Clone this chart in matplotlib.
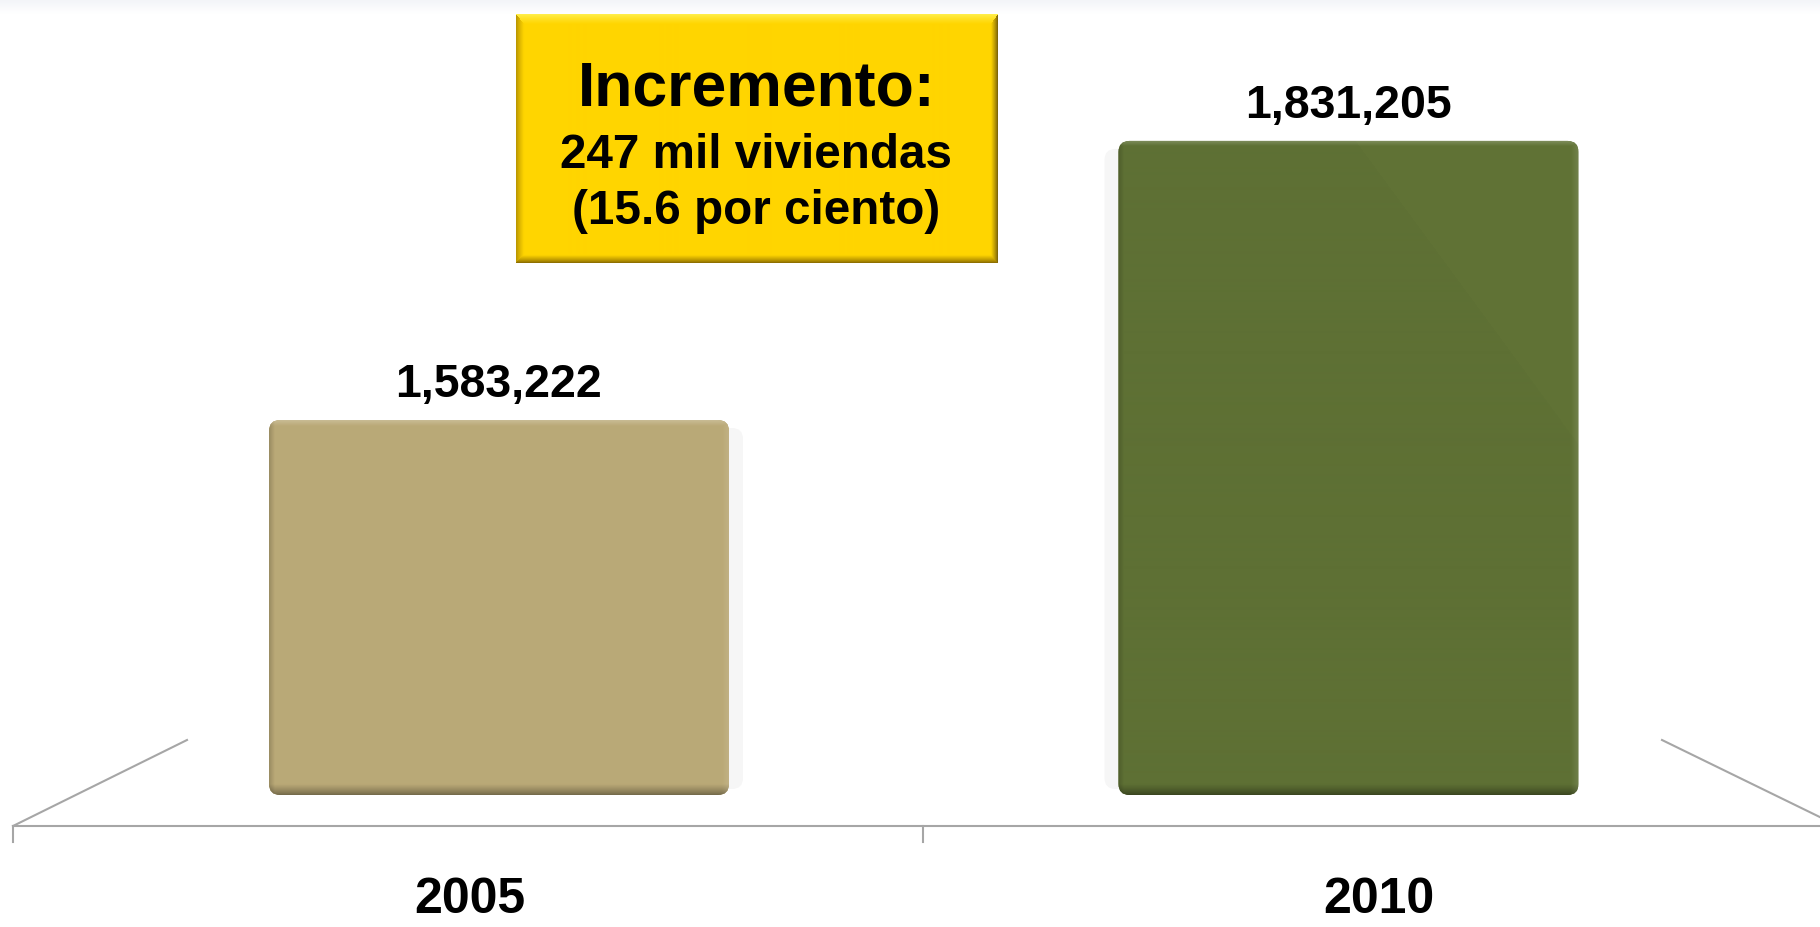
import numpy as np
import matplotlib
matplotlib.use("Agg")
import matplotlib.pyplot as plt
from matplotlib.patches import FancyBboxPatch
from matplotlib.lines import Line2D

# ---------------- data ----------------
years = ["2005", "2010"]
viviendas = [1583222, 1831205]
bar_colors = ["#BAA977", "#5E7034"]
box_lines = ["Incremento:", "247 mil viviendas", "(15.6 por ciento)"]

W_PX, H_PX = 1820, 927
DPI = 100
FONT = "Liberation Sans"

fig = plt.figure(figsize=(W_PX / DPI, H_PX / DPI), dpi=DPI)
fig.patch.set_facecolor("white")


def fx(px):
    return px / W_PX


def fy(py):
    return 1 - py / H_PX


# top light band
band = fig.add_axes([0, fy(14), 1, 14 / H_PX])
grad = np.linspace(0, 1, 20)[:, None, None]
top_c = np.array([0.953, 0.961, 0.976])
band.imshow(top_c * (1 - grad) + np.array([1, 1, 1]) * grad, aspect="auto",
            extent=(0, 1, 0, 1))
band.axis("off")

# main axes in data coordinates
ax = fig.add_axes([0, 0, 1, 1])
ax.set_facecolor("none")
x_pos = np.arange(len(years))
px_per_x = 849.5
x_left_px = 499
y_base = 1250000
px_per_y = 375 / (viviendas[0] - y_base)
base_from_bottom = H_PX - 795
xlim = (-x_left_px / px_per_x, (W_PX - x_left_px) / px_per_x)
ylim = (y_base - base_from_bottom / px_per_y, y_base + 795 / px_per_y)
ax.set_xlim(*xlim)
ax.set_ylim(*ylim)
ax.axis("off")

bar_w = 460 / px_per_x
radius_px = 11
aspect = px_per_x / px_per_y


def bevel_bar_texture(w, h, base, diag=False):
    base = np.array(matplotlib.colors.to_rgb(base))
    yy, xx = np.mgrid[0:h, 0:w]
    dt = yy + 0.5
    db = h - yy - 0.5
    dl = xx + 0.5
    dr = w - xx - 0.5
    img = np.ones((h, w, 3)) * base
    if diag:
        mask = (xx - 0.515 * w) * 1.36 > yy
        img[mask] = img[mask] * 1.025
    f = np.ones((h, w))
    f *= np.where(db < 11, 0.6 + 0.4 * np.clip(db / 11, 0, 1) ** 0.8, 1)
    f *= np.where(dl < 6, 0.82 + 0.18 * dl / 6, 1)
    img = img * f[..., None]
    lt = 0.22 * np.clip(1 - dt / 6, 0, 1)
    lr = 0.10 * np.clip(1 - dr / 7, 0, 1)
    light = np.maximum(lt, lr)[..., None]
    img = img + (1 - img) * light
    return np.clip(img, 0, 1)


for i, (xp, v, c) in enumerate(zip(x_pos, viviendas, bar_colors)):
    x0 = xp - bar_w / 2
    h = v - y_base
    # faint drop shadow
    sh_off = (14 / px_per_x) * (1 if i == 0 else -1)
    shadow = FancyBboxPatch((x0 + sh_off, y_base + 6 / px_per_y), bar_w,
                            h - 14 / px_per_y,
                            boxstyle=f"round,pad=0,rounding_size={radius_px / px_per_x}",
                            mutation_aspect=aspect, facecolor="#F6F6F6",
                            edgecolor="none", zorder=1)
    ax.add_patch(shadow)
    patch = FancyBboxPatch((x0, y_base), bar_w, h,
                           boxstyle=f"round,pad=0,rounding_size={radius_px / px_per_x}",
                           mutation_aspect=aspect, facecolor=c,
                           edgecolor="none", zorder=2)
    ax.add_patch(patch)
    wpx = int(round(bar_w * px_per_x))
    hpx = int(round(h * px_per_y))
    tex = bevel_bar_texture(wpx, hpx, c, diag=(i == 1))
    im = ax.imshow(tex, extent=(x0, x0 + bar_w, y_base, v), origin="upper",
                   aspect="auto", zorder=3, interpolation="bilinear")
    im.set_clip_path(patch)
    ax.annotate(f"{v:,}", xy=(xp, v), xytext=(0, 16.5), textcoords="offset points",
                ha="center", va="baseline", fontsize=33.5, fontweight="bold",
                family=FONT, color="black", zorder=5)

ax.set_xlim(*xlim)
ax.set_ylim(*ylim)

# floor / axis lines (figure pixel coordinates)
line_c = "#A6A6A6"
lw = 1.5
segs = [
    ((13, 826), (1820, 826)),
    ((13, 826), (13, 842)),
    ((923, 826), (923, 842)),
    ((13, 826), (187, 740)),
    ((1662, 740), (1830, 822)),
]
for (xa, ya), (xb, yb) in segs:
    fig.add_artist(Line2D([fx(xa), fx(xb)], [fy(ya), fy(yb)], color=line_c,
                          lw=lw, transform=fig.transFigure, zorder=0))

# category labels
cat_x = [470, 1379]
for lab, cx in zip(years, cat_x):
    fig.text(fx(cx), fy(913), lab, ha="center", va="baseline", fontsize=36,
             fontweight="bold", family=FONT, color="black")

# yellow beveled box
bx0, bx1, by0, by1 = 516, 997, 14, 263
bw, bh = bx1 - bx0, by1 - by0
box_ax = fig.add_axes([fx(bx0), fy(by1), bw / W_PX, bh / H_PX])
yy, xx = np.mgrid[0:bh, 0:bw]
dts = np.stack([(yy + 0.5) / 10, (bh - yy - 0.5) / 8, (xx + 0.5) / 8,
                (bw - xx - 0.5) / 7])
base = np.array([255, 213, 0]) / 255
edges = np.array([[255, 240, 80], [130, 100, 0], [180, 145, 0],
                  [110, 88, 10]]) / 255
nearest = np.argmin(dts, axis=0)
dmin = np.min(dts, axis=0)
img = np.ones((bh, bw, 3)) * base
inb = dmin < 1
t = np.clip(dmin, 0, 1)[..., None] ** 0.8
ec = edges[nearest]
img = np.where(inb[..., None], ec * (1 - t) + base * t, img)
box_ax.imshow(img, aspect="auto", extent=(0, 1, 0, 1), interpolation="bilinear")
box_ax.axis("off")

cx = (bx0 + bx1) / 2
fig.text(fx(cx), fy(82), box_lines[0], ha="center", va="center_baseline",
         fontsize=45, fontweight="bold", family=FONT, color="black")
fig.text(fx(cx), fy(150), box_lines[1], ha="center", va="center_baseline",
         fontsize=34.3, fontweight="bold", family=FONT, color="black")
fig.text(fx(cx), fy(207), box_lines[2], ha="center", va="center_baseline",
         fontsize=34.3, fontweight="bold", family=FONT, color="black")

fig.savefig("out.png", dpi=DPI, facecolor="white")
